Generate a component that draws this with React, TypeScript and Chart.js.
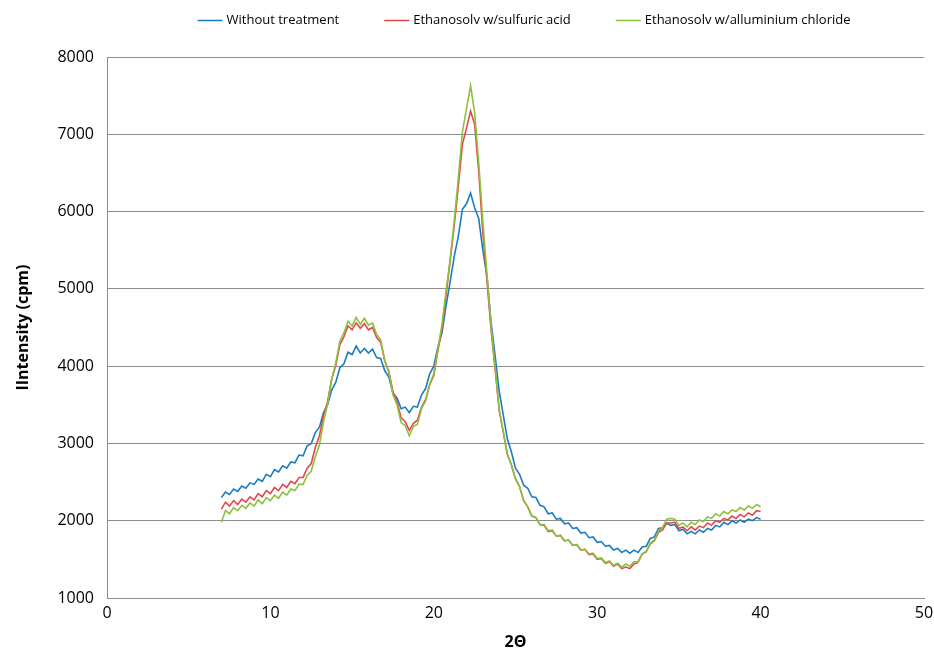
import { useEffect, useRef } from "react";
import { Chart, registerables } from "chart.js";

Chart.register(...registerables);

// 2Θ sampling grid of the digitised patterns
const thetaStart = 7;
const thetaStep = 0.25;

const seriesLabels = [
  "Without treatment",
  "Ethanosolv w/sulfuric acid",
  "Ethanosolv w/alluminium chloride",
];

const withoutTreatment = [
  2300, 2370, 2340, 2410, 2380, 2450, 2420, 2490, 2470, 2540,
  2510, 2600, 2570, 2660, 2630, 2710, 2680, 2760, 2750, 2850,
  2840, 2970, 3000, 3140, 3210, 3400, 3500, 3690, 3790, 3980,
  4030, 4180, 4150, 4260, 4170, 4230, 4170, 4220, 4110, 4100,
  3940, 3860, 3650, 3590, 3450, 3470, 3400, 3480, 3470, 3630,
  3710, 3900, 4000, 4250, 4430, 4780, 5090, 5420, 5680, 6030,
  6100, 6240, 6050, 5910, 5500, 5170, 4580, 4140, 3680, 3370,
  3060, 2890, 2680, 2600, 2460, 2420, 2310, 2300, 2200, 2180,
  2090, 2100, 2020, 2030, 1960, 1970, 1900, 1910, 1840, 1850,
  1780, 1790, 1720, 1730, 1670, 1680, 1620, 1640, 1590, 1620,
  1580, 1620, 1590, 1660, 1670, 1770, 1790, 1900, 1910, 1970,
  1940, 1950, 1870, 1890, 1830, 1860, 1830, 1880, 1850, 1900,
  1880, 1940, 1920, 1980, 1950, 2000, 1970, 2010, 1980, 2020,
  2000, 2040, 2020,
];

const sulfuricAcid = [
  2150, 2240, 2190, 2260, 2210, 2280, 2240, 2310, 2270, 2350,
  2310, 2390, 2350, 2430, 2390, 2470, 2430, 2510, 2480, 2560,
  2560, 2680, 2740, 2950, 3100, 3360, 3540, 3830, 4010, 4280,
  4380, 4520, 4470, 4560, 4490, 4550, 4470, 4500, 4370, 4310,
  4070, 3930, 3670, 3540, 3330, 3280, 3170, 3260, 3300, 3470,
  3570, 3760, 3880, 4200, 4480, 4920, 5360, 5820, 6330, 6870,
  7080, 7300, 7130, 6520, 5730, 5120, 4480, 3970, 3430, 3150,
  2860, 2720, 2540, 2440, 2260, 2180, 2060, 2040, 1950, 1940,
  1860, 1870, 1800, 1810, 1740, 1750, 1680, 1690, 1620, 1630,
  1560, 1570, 1500, 1510, 1450, 1470, 1410, 1440, 1380, 1400,
  1380, 1440, 1460, 1570, 1600, 1700, 1740, 1850, 1880, 1970,
  1970, 1980, 1900, 1920, 1870, 1920, 1880, 1930, 1910, 1970,
  1940, 2000, 1980, 2030, 2010, 2060, 2030, 2080, 2050, 2100,
  2070, 2130, 2120,
];

const aluminiumChloride = [
  1980, 2130, 2090, 2170, 2130, 2200, 2160, 2230, 2190, 2270,
  2220, 2300, 2260, 2330, 2290, 2370, 2330, 2410, 2390, 2470,
  2470, 2590, 2640, 2830, 2980, 3280, 3510, 3830, 4040, 4320,
  4430, 4580, 4520, 4630, 4540, 4620, 4530, 4560, 4410, 4340,
  4070, 3920, 3630, 3500, 3270, 3230, 3100, 3220, 3250, 3450,
  3550, 3770, 3900, 4220, 4540, 4970, 5380, 5880, 6430, 7030,
  7330, 7630, 7280, 6630, 5880, 5200, 4530, 4000, 3440, 3150,
  2860, 2720, 2540, 2440, 2260, 2180, 2060, 2040, 1950, 1950,
  1870, 1880, 1800, 1810, 1740, 1750, 1680, 1690, 1620, 1630,
  1570, 1580, 1510, 1520, 1460, 1480, 1420, 1450, 1400, 1440,
  1410, 1470, 1470, 1570, 1600, 1710, 1750, 1870, 1910, 2020,
  2030, 2020, 1940, 1970, 1920, 1980, 1950, 2010, 1990, 2050,
  2030, 2090, 2060, 2120, 2090, 2140, 2120, 2170, 2140, 2190,
  2160, 2210, 2180,
];

const seriesValues = [withoutTreatment, sulfuricAcid, aluminiumChloride];
const seriesColors = ["#1a7cc1", "#e2474b", "#8cc03f"];
const seriesOrder = [3, 2, 1];

const xMin = 0;
const xMax = 50;
const xStep = 10;
const yMin = 1000;
const yMax = 8000;
const yStep = 1000;

const xTitle = "2Θ";
const yTitle = "IIntensity (cpm)";

const FONT = "'Open Sans', 'Noto Sans', sans-serif";

const topLegend = {
  id: "topLegend",
  afterDraw(chart: any) {
    const ctx = chart.ctx as CanvasRenderingContext2D;
    ctx.save();
    ctx.font = `13px ${FONT}`;
    const lineLen = 25;
    const gapText = 4;
    const gapItem = 45;
    const items = chart.data.datasets.map((ds: any) => ({
      text: ds.label as string,
      color: ds.borderColor as string,
      w: ctx.measureText(ds.label).width,
    }));
    const total =
      items.reduce((s: number, it: any) => s + lineLen + gapText + it.w, 0) +
      gapItem * (items.length - 1);
    let x = 524 - total / 2;
    const y = 20;
    ctx.textBaseline = "middle";
    ctx.textAlign = "left";
    for (const it of items) {
      ctx.strokeStyle = it.color;
      ctx.lineWidth = 1.5;
      ctx.beginPath();
      ctx.moveTo(x, y + 0.5);
      ctx.lineTo(x + lineLen, y + 0.5);
      ctx.stroke();
      x += lineLen + gapText;
      ctx.fillStyle = "#000";
      ctx.fillText(it.text, x, y);
      x += it.w + gapItem;
    }
    ctx.restore();
  },
};

export default function App() {
  const canvasRef = useRef<HTMLCanvasElement | null>(null);

  useEffect(() => {
    if (!canvasRef.current) return;
    const datasets = seriesValues.map((vals, s) => ({
      label: seriesLabels[s],
      data: vals.map((v, i) => ({ x: thetaStart + i * thetaStep, y: v })),
      borderColor: seriesColors[s],
      backgroundColor: seriesColors[s],
      borderWidth: 1.6,
      pointRadius: 0,
      tension: 0,
      fill: false,
      order: seriesOrder[s],
    }));

    const chart = new Chart(canvasRef.current, {
      type: "line",
      data: { datasets },
      options: {
        animation: false,
        responsive: false,
        maintainAspectRatio: false,
        layout: { padding: { top: 57, right: 0, left: 0, bottom: 0 } },
        plugins: {
          legend: { display: false },
          tooltip: { enabled: false },
          title: { display: false },
        },
        scales: {
          x: {
            type: "linear",
            min: xMin,
            max: xMax,
            ticks: {
              stepSize: xStep,
              color: "#000",
              font: { family: FONT, size: 16 },
              padding: 6,
              callback: (v: any) => String(v),
            },
            grid: { display: false, drawTicks: false },
            border: { display: true, color: "#8c8c8c", width: 1 },
            title: {
              display: true,
              text: xTitle,
              color: "#000",
              font: { family: FONT, size: 16, weight: "bold" },
              padding: { top: 0, bottom: 0 },
            },
            afterFit: (scale: any) => {
              scale.height = 54;
              scale.paddingRight = 10;
              scale.paddingLeft = 0;
            },
          },
          y: {
            min: yMin,
            max: yMax,
            ticks: {
              stepSize: yStep,
              color: "#000",
              font: { family: FONT, size: 16 },
              padding: 13,
              callback: (v: any) => String(v),
            },
            grid: { color: "#8c8c8c", lineWidth: 1, drawTicks: false },
            border: { display: true, color: "#8c8c8c", width: 1 },
            title: {
              display: true,
              text: yTitle,
              color: "#000",
              font: { family: FONT, size: 16, weight: "bold" },
              padding: { top: 14, bottom: 0 },
            },
            afterFit: (scale: any) => {
              scale.width = 107;
            },
          },
        },
      },
      plugins: [topLegend],
    });
    return () => chart.destroy();
  }, []);

  return (
    <div style={{ position: "fixed", left: 0, top: 0, width: 934, height: 652, background: "#fff" }}>
      <canvas ref={canvasRef} width={934} height={652} />
    </div>
  );
}
